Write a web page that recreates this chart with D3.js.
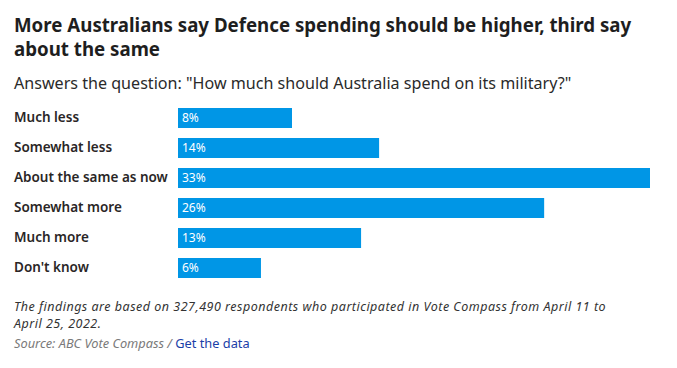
<!DOCTYPE html>
<html><head><meta charset="utf-8">
<script src="https://cdn.jsdelivr.net/npm/d3@7"></script>
<style>
html,body{margin:0;padding:0;background:#fff;}
svg{display:block;}
</style></head>
<body>
<script>
const categories = ["Much less","Somewhat less","About the same as now","Somewhat more","Much more","Don't know"];
const values = [7.97, 14.06, 33, 25.6, 12.8, 5.8];
const valueLabels = ["8%","14%","33%","26%","13%","6%"];

const W = 677, H = 368;
const svg = d3.select("body").append("svg").attr("width", W).attr("height", H);
const font = "Noto Sans, Open Sans, sans-serif";

svg.append("text").attr("x", 14).attr("y", 32)
  .attr("font-family", font).attr("font-weight", 700).attr("font-size", 18.7)
  .attr("fill", "#1e1e1e")
  .text("More Australians say Defence spending should be higher, third say");
svg.append("text").attr("x", 14).attr("y", 56)
  .attr("font-family", font).attr("font-weight", 700).attr("font-size", 18.7)
  .attr("fill", "#1e1e1e")
  .text("about the same");
svg.append("text").attr("x", 14).attr("y", 89)
  .attr("font-family", font).attr("font-size", 16.1)
  .attr("fill", "#2a2a2a")
  .text("Answers the question: \"How much should Australia spend on its military?\"");

const x = d3.scaleLinear().domain([0, 33]).range([178, 650]);
const y = d3.scaleBand().domain(categories).range([103, 283]).paddingInner(0.3333).paddingOuter(0.1667);

const g = svg.append("g");
g.selectAll("rect").data(categories).join("rect")
  .attr("x", x(0)).attr("y", d => y(d))
  .attr("width", (d,i) => x(values[i]) - x(0))
  .attr("height", y.bandwidth())
  .attr("fill", "#0096e6");

g.selectAll("text.cat").data(categories).join("text").attr("class","cat")
  .attr("x", 14).attr("y", d => y(d) + y.bandwidth()/2)
  .attr("dy", "0.3em")
  .attr("font-family", font).attr("font-weight", 600).attr("font-size", 13.5)
  .attr("fill", "#2a2626")
  .text(d => d);

g.selectAll("text.val").data(categories).join("text").attr("class","val")
  .attr("x", x(0) + 4).attr("y", d => y(d) + y.bandwidth()/2)
  .attr("dy", "0.36em")
  .attr("font-family", font).attr("font-size", 12)
  .attr("fill", "#fff")
  .text((d,i) => valueLabels[i]);

svg.append("text").attr("x", 14).attr("y", 310.5)
  .attr("font-family", font).attr("font-style", "italic").attr("font-size", 12.5)
  .attr("fill", "#333").attr("letter-spacing", 0.5)
  .text("The findings are based on 327,490 respondents who participated in Vote Compass from April 11  to");
svg.append("text").attr("x", 14).attr("y", 328)
  .attr("font-family", font).attr("font-style", "italic").attr("font-size", 12.5)
  .attr("fill", "#333").attr("letter-spacing", 0.5)
  .text("April 25, 2022.");
const src = svg.append("text").attr("x", 14).attr("y", 348)
  .attr("font-family", font).attr("font-size", 12.8);
src.append("tspan").attr("font-style", "italic").attr("fill", "#7a7a7a").text("Source: ABC Vote Compass / ");
src.append("tspan").attr("fill", "#1a3ea8").text("Get the data");
</script>
</body></html>
